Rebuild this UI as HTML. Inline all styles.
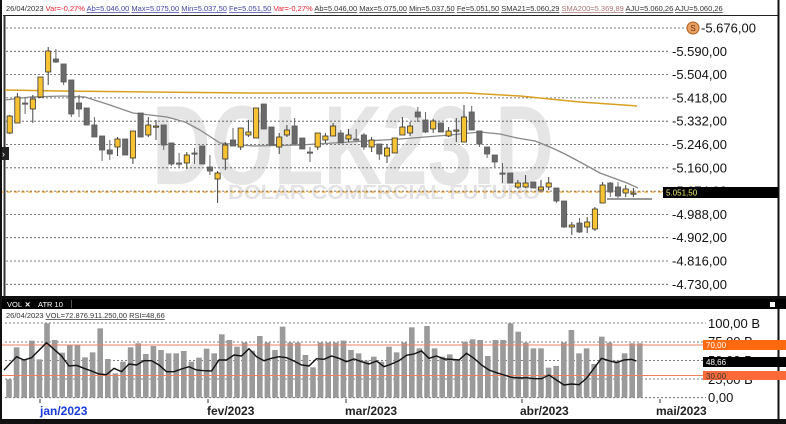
<!DOCTYPE html>
<html><head><meta charset="utf-8"><style>
html,body{margin:0;padding:0;background:#fff;}
svg{display:block;font-family:"Liberation Sans",sans-serif;}
</style></head><body>
<svg id="s" width="786" height="424" viewBox="0 0 786 424" xmlns="http://www.w3.org/2000/svg">
<rect x="0" y="0" width="786" height="424" fill="#fff"/>
<!-- watermark -->
<text x="152" y="184" font-size="112" font-weight="bold" fill="#e5e5e5" textLength="402" lengthAdjust="spacingAndGlyphs">DOLK23.D</text>
<text x="228" y="199" font-size="20" font-weight="bold" fill="#e3e3e3" textLength="312" lengthAdjust="spacingAndGlyphs">DOLAR COMERCIAL FUTURO</text>
<!-- header -->
<text x="6" y="11" font-size="7.5" fill="#333">26/04/2023 <tspan fill="#e23">Var=-0,27%</tspan> <tspan fill="#44a" text-decoration="underline">Ab=5.046,00</tspan> <tspan fill="#44a" text-decoration="underline">Max=5.075,00</tspan> <tspan fill="#44a" text-decoration="underline">Min=5.037,50</tspan> <tspan fill="#44a" text-decoration="underline">Fe=5.051,50</tspan> <tspan fill="#e23">Var=-0,27%</tspan> <tspan text-decoration="underline">Ab=5.046,00</tspan> <tspan text-decoration="underline">Max=5.075,00</tspan> <tspan text-decoration="underline">Min=5.037,50</tspan> <tspan text-decoration="underline">Fe=5.051,50</tspan> <tspan text-decoration="underline">SMA21=5.060,29</tspan> <tspan fill="#a77" text-decoration="underline">SMA200=5.369,89</tspan> <tspan text-decoration="underline">AJU=5.060,26</tspan> <tspan text-decoration="underline">AJU=5.060,26</tspan></text>
<line x1="3" y1="15.5" x2="778" y2="15.5" stroke="#222" stroke-width="1"/>
<line x1="4.5" y1="15" x2="4.5" y2="297" stroke="#333" stroke-width="2"/>
<line x1="778.5" y1="0" x2="778.5" y2="424" stroke="#111" stroke-width="2"/>
<g id="grid"></g>
<g id="price" font-size="13" fill="#111"></g>
<circle cx="693" cy="28" r="6" fill="#e8a060" stroke="#b06020"/>
<text x="693" y="31" font-size="8" fill="#6a3010" text-anchor="middle">S</text>
<rect x="0" y="147" width="9" height="13" fill="#222"/>
<text x="2" y="157" font-size="9" fill="#fff">›</text>
<path id="sma200" fill="none" stroke="#d9a020" stroke-width="1.5"/>
<path id="sma21" fill="none" stroke="#888" stroke-width="1.3"/>
<line x1="0" y1="192" x2="665" y2="192" stroke="#f5a030" stroke-width="1.2" stroke-dasharray="4,3"/>
<line x1="607" y1="199" x2="652" y2="199" stroke="#777" stroke-width="1.5"/>
<g id="candles"></g>
<rect x="663" y="187" width="115" height="11" fill="#000"/>
<text x="666" y="195.5" font-size="8" fill="#ee6">5.051,50</text>
<!-- lower panel -->
<rect x="0" y="296" width="786" height="3" fill="#111"/>
<rect x="0" y="299" width="786" height="10" fill="#000"/>
<text x="7" y="307" font-size="7.5" fill="#fff">VOL</text>
<text x="25" y="307.5" font-size="9" font-weight="bold" fill="#fff">×</text>
<text x="38" y="307" font-size="7.5" fill="#fff">ATR 10</text>
<rect x="71" y="300" width="1" height="8" fill="#555"/>
<rect x="770" y="302" width="5" height="5" fill="#fff"/>
<text x="6" y="318" font-size="7.5" fill="#333">26/04/2023 <tspan text-decoration="underline">VOL=72.876.911.250,00</tspan> <tspan text-decoration="underline">RSI=48,66</tspan></text>
<g id="vgrid"></g>
<g id="vol"></g>
<line x1="0" y1="345" x2="703" y2="345" stroke="#f08060" stroke-width="1"/>
<line x1="0" y1="375.5" x2="703" y2="375.5" stroke="#f08060" stroke-width="1"/>
<path id="rsi" fill="none" stroke="#111" stroke-width="1.4"/>
<g font-size="13" fill="#111">
<text x="708" y="328">100,00 B</text>
<text x="708" y="346">75,00 B</text>
<text x="708" y="365">50,00 B</text>
<text x="708" y="384">25,00 B</text>
<text x="708" y="402">0,00</text>
</g>
<rect x="703" y="340" width="83" height="10" fill="#ff6a10"/>
<text x="706" y="348" font-size="8" fill="#fff">70,00</text>
<rect x="703" y="357" width="83" height="10" fill="#000"/>
<text x="706" y="365" font-size="8" fill="#fff">48,66</text>
<rect x="703" y="371" width="83" height="9" fill="#ff6a3a"/>
<text x="706" y="379" font-size="8" fill="#333">30,00</text>
<g stroke="#333"><line x1="40" y1="399" x2="40" y2="403"/><line x1="208" y1="399" x2="208" y2="403"/><line x1="346" y1="399" x2="346" y2="403"/><line x1="522" y1="399" x2="522" y2="403"/><line x1="660" y1="399" x2="660" y2="403"/></g>
<g font-size="12" font-weight="bold" fill="#222">
<text x="40" y="415" fill="#1a3ae0">jan/2023</text>
<text x="207" y="415">fev/2023</text>
<text x="345" y="415">mar/2023</text>
<text x="520" y="415">abr/2023</text>
<text x="656" y="415">mai/2023</text>
</g>
<rect x="0" y="419" width="786" height="5" fill="#111"/>
<line x1="1" y1="0" x2="1" y2="424" stroke="#111" stroke-width="2"/>
</svg>
<script>
var NS="http://www.w3.org/2000/svg";
function el(p,t,a){var e=document.createElementNS(NS,t);for(var k in a)e.setAttribute(k,a[k]);p.appendChild(e);return e;}
var g=document.getElementById('grid'),pl=document.getElementById('price');
var labs=["5.676,00","5.590,00","5.504,00","5.418,00","5.332,00","5.246,00","5.160,00","5.074,00","4.988,00","4.902,00","4.816,00","4.730,00"];
for(var i=0;i<12;i++){var y=28+i*23.3;el(g,'line',{x1:6,y1:y,x2:(i==0?687:668),y2:y,stroke:'#555','stroke-dasharray':'2,2','stroke-width':0.8});
var t=el(pl,'text',{x:i==0?701:672,y:y+4.5});t.textContent="-"+labs[i];}
var vg=document.getElementById('vgrid');
[323,342,360.5,379,397.7].forEach(function(y){el(vg,'line',{x1:5,y1:y,x2:706,y2:y,stroke:'#555','stroke-dasharray':'2,2','stroke-width':0.8});});
var C=[[1,116,133,115,134],[1,97,123,93,123],[0,103,104,97,114],[1,99,109,95,123],[1,77,97,77,98],[1,51,72,47,85],[0,59,62,49,63],[0,64,82,64,85],[0,80,114,80,117],[0,103,109,95,117],
[0,108,125,108,125],[0,125,137,117,137],[0,136,150,136,161],[0,150,154,140,160],[1,139,147,137,156],[0,139,155,139,155],[1,131,158,131,164],[0,113,137,113,137],[1,125,135,117,137],[1,126,127,120,140],
[0,125,145,125,150],[0,143,164,143,166],[0,163,164,153,168],[1,155,163,152,169],[0,153,154,148,164],[0,146,164,146,164],[0,167,171,155,175],[1,173,179,171,203],[1,145,159,142,170],[0,140,146,128,146],
[1,128,147,128,150],[1,132,135,120,137],[1,108,138,108,138],[0,104,129,104,129],[0,127,145,127,145],[1,137,147,133,154],[1,130,135,125,137],[0,126,144,118,144],[0,138,149,138,149],[0,152,153,147,162],
[1,133,147,133,150],[1,136,140,133,143],[1,126,136,123,136],[0,133,143,130,143],[1,135,139,129,142],[0,139,140,129,140],[0,135,147,133,150],[1,140,147,137,152],[0,144,154,144,160],[1,148,156,144,163],
[1,138,153,138,153],[1,127,135,117,135],[1,126,133,122,136],[0,112,117,107,122],[0,120,132,112,133],[1,121,129,119,133],[0,123,132,123,132],[1,131,136,127,137],[1,130,131,118,142],[1,117,142,105,142],
[0,112,130,106,130],[0,131,144,131,147],[0,147,154,147,158],[0,155,162,155,167],[0,173,174,163,183],[0,173,183,173,183],[1,183,187,180,189],[1,183,187,175,188],[0,182,188,182,188],[1,187,190,180,192],
[1,183,187,177,190],[0,188,201,188,203],[0,201,227,201,228],[1,225,227,222,235],[0,223,232,218,233],[1,222,227,217,233],[1,209,229,207,231],[1,185,203,182,203],[0,183,192,182,197],[0,187,196,182,198],
[1,189,193,185,197],[1,193,194,188,197]];
var cg=document.getElementById('candles');
C.forEach(function(c,i){var x=9.7+i*7.7;
el(cg,'line',{x1:x,y1:c[3],x2:x,y2:c[4],stroke:c[0]?'#444':'#666','stroke-width':1});
var h=Math.max(c[2]-c[1],1.2);
el(cg,'rect',{x:x-2.6,y:c[1],width:5.2,height:h,fill:c[0]?'#f7c332':'#6a6a6a',stroke:c[0]?'#333':'#5a5a5a','stroke-width':0.8});});
function path(id,pts){document.getElementById(id).setAttribute('d','M'+pts.map(function(p){return p.join(',')}).join(' L'));}
path('sma21',[[5,100],[30,97],[63,96],[85,97],[110,105],[133,113],[167,117],[185,122],[200,130],[220,143],[253,146],[300,145],[350,142],[400,139],[450,135],[480,132],[500,134],[517,138],[535,141],[550,147],[565,154],[580,162],[600,173],[627,183],[638,188]]);
path('sma200',[[5,90],[60,91],[150,92],[250,93],[330,93],[400,93],[467,93],[520,96],[580,102],[637,106]]);
var V=[268,172,208,152,208,100,150,188,165,165,202,187,115,207,250,215,172,160,192,168,180,190,190,183,215,203,176,190,133,150,170,158,182,138,158,180,110,158,158,195,232,158,158,158,152,180,190,212,200,215,170,187,158,112,175,108,175,200,193,207,155,148,150,198,150,150,100,125,158,175,175,233,228,158,120,190,175,222,140,158,212,190,160,160];
var vgp=document.getElementById('vol');
V.forEach(function(z,i){var x=9+i*7.6;var y=290+z/3;el(vgp,'rect',{x:x-2.8,y:y,width:5.6,height:397.7-y,fill:'#9a9a9a'});});
var R=[[8,240],[33,200],[48,210],[63,203],[93,158],[108,178],[123,198],[138,228],[153,226],[168,235],[183,243],[198,252],[213,254],[228,235],[243,245],[258,222],[273,225],[288,212],[303,212],[318,225],[333,245],[348,245],[363,237],[378,230],[393,240],[408,242],[423,243],[438,210],[453,210],[468,195],[483,198],[498,176],[513,200],[528,212],[543,205],[558,200],[573,203],[588,213],[603,225],[618,228],[633,206],[648,208],[663,198],[678,205],[693,215],[708,207],[723,215],[738,222],[753,213],[768,230],[783,222],[798,212],[813,196],[828,192],[843,183],[858,205],[873,198],[888,207],[903,208],[918,210],[933,190],[948,205],[963,225],[978,240],[993,248],[1008,255],[1023,262],[1038,264],[1053,263],[1068,266],[1083,266],[1098,255],[1113,270],[1128,285],[1143,282],[1158,284],[1173,265],[1188,235],[1203,205],[1218,212],[1233,218],[1248,210],[1263,208],[1273,213]];
path('rsi',R.map(function(p){return [(p[0]/2).toFixed(1),(290+p[1]/3).toFixed(1)];}));
</script>
</body></html>
